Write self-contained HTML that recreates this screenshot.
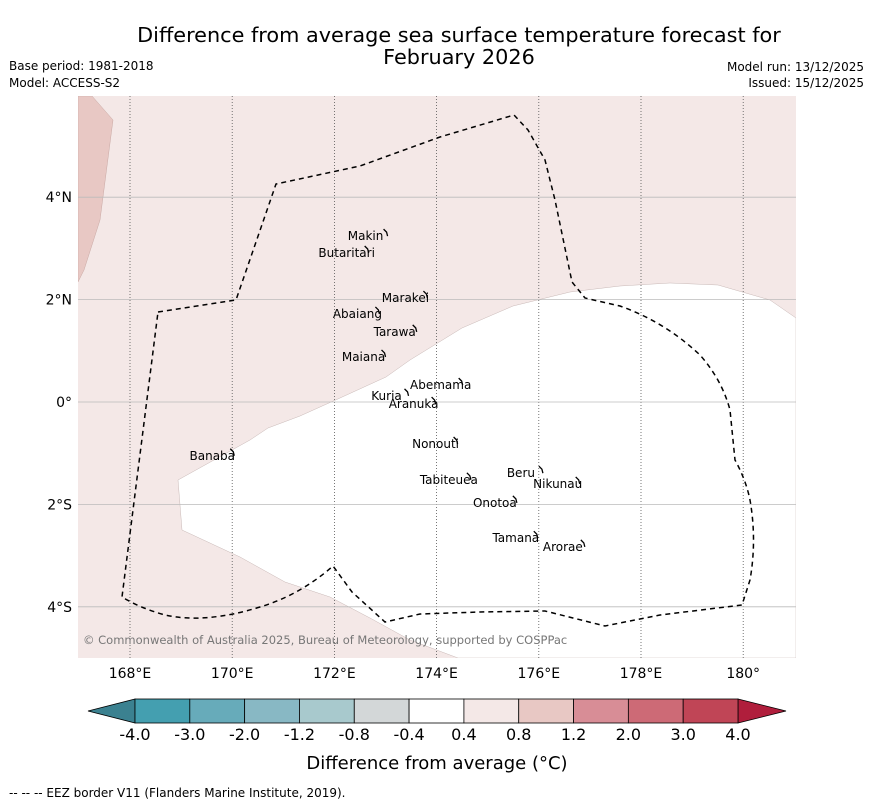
<!DOCTYPE html>
<html><head><meta charset="utf-8"><style>
body{margin:0;background:#fff;width:873px;height:804px;overflow:hidden;font-family:"DejaVu Sans","Liberation Sans",sans-serif}
svg{position:absolute;left:0;top:0}
</style></head><body>
<svg id="c" width="873" height="804">
<text x="459" y="42" font-size="20.8" text-anchor="middle">Difference from average sea surface temperature forecast for</text>
<text x="459" y="64" font-size="20.8" text-anchor="middle">February 2026</text>
<text x="9" y="70" font-size="12">Base period: 1981-2018</text>
<text x="9" y="87" font-size="12">Model: ACCESS-S2</text>
<text x="864" y="71" font-size="12" text-anchor="end">Model run: 13/12/2025</text>
<text x="864" y="87" font-size="12" text-anchor="end">Issued: 15/12/2025</text>
<defs><clipPath id="mc"><rect x="78" y="96" width="718" height="562"/></clipPath></defs>
<g clip-path="url(#mc)">
<rect x="78" y="96" width="718" height="562" fill="#f4e8e7"/>
<polygon points="796,318 770,300 718,285 670,283 620,286 570,292 513,306 462,328 410,360 386,377 340,398 300,416 268,428 250,440 178,480 182,530 240,557 285,582 330,597 370,618 410,640 458,658 796,658" fill="#ffffff" stroke="#c8b8b6" stroke-width="0.5"/>
<polygon points="78,96 92,96 113,120 100,220 84,270 78,282" fill="#e8c8c4" stroke="#c8a8a4" stroke-width="0.5"/>
<g id="grid"></g>
<path d="M158,312 L236,300 L276,184 L360,166 L440,137 L514,115 L528,130 L545,160 L555,200 L572,282 L585,298 L620,306 Q665,322 700,355 Q722,380 730,410 L735,460 Q746,480 750,500 Q757,540 750,580 L742,605 L660,615 L605,626 L545,611 L480,612 L420,614 L385,622 L352,592 L333,566 Q300,595 260,607 Q205,624 165,615 Q140,608 122,597 Z" fill="none" stroke="#000" stroke-width="1.5" stroke-dasharray="5,4"/>
<g id="isl" stroke="#000" stroke-width="1.3" fill="none"></g>
<text x="83" y="644" font-size="11.5" fill="#777">© Commonwealth of Australia 2025, Bureau of Meteorology, supported by COSPPac</text>
</g>
<g id="axes" font-size="14"></g>
<g id="cb"></g>
<text x="437" y="769" font-size="18" text-anchor="middle">Difference from average (°C)</text>
<text x="9" y="797" font-size="12">--  --  -- EEZ border V11 (Flanders Marine Institute, 2019).</text>
</svg>
<script>
const lonTicks=[168,170,172,174,176,178,180];
const lonLabels=["168°E","170°E","172°E","174°E","176°E","178°E","180°"];
const latTicks=[4,2,0,-2,-4];
const latLabels=["4°N","2°N","0°","2°S","4°S"];
const cbLabels=["-4.0","-3.0","-2.0","-1.2","-0.8","-0.4","0.4","0.8","1.2","2.0","3.0","4.0"];
const cbColors=["#449fb0","#67abba","#88b8c4","#a8c9cd","#d3d7d8","#ffffff","#f4e8e7","#e8c8c4","#d88d96","#cd6a76","#c04556"];
const islandNames=["Makin","Butaritari","Marakei","Abaiang","Tarawa","Maiana","Abemama","Kuria","Aranuka","Nonouti","Banaba","Beru","Nikunau","Tabiteuea","Onotoa","Tamana","Arorae"];
const islandLon=[172.61,172.24,173.39,172.45,173.18,172.57,174.08,173.02,173.55,173.98,169.61,175.65,176.37,174.24,175.14,175.55,176.47];
const islandLat=[3.24,2.91,2.03,1.72,1.37,0.88,0.33,0.12,-0.04,-0.82,-1.05,-1.39,-1.60,-1.52,-1.97,-2.66,-2.83];
const X=l=>130+(l-168)*51.1, Y=l=>402-l*51.2;
const NS="http://www.w3.org/2000/svg";
function mk(t,a,p){const e=document.createElementNS(NS,t);for(const k in a)e.setAttribute(k,a[k]);p.appendChild(e);return e;}
const g=document.getElementById('grid'),ax=document.getElementById('axes');
lonTicks.forEach((l,i)=>{
 const ln=mk('line',{x1:X(l),x2:X(l),y1:96,y2:658,stroke:'#555','stroke-width':0.8,'stroke-dasharray':'1,2'},g);
 
 
 const t=mk('text',{x:X(l),y:678,'text-anchor':'middle'},ax);t.textContent=lonLabels[i];
 
 
});
latTicks.forEach((l,i)=>{
 const ln=mk('line',{x1:78,x2:796,y1:Y(l),y2:Y(l),stroke:'#bbb','stroke-width':0.8},g);
 
 
 const t=mk('text',{x:72,y:Y(l)+5,'text-anchor':'end'},ax);t.textContent=latLabels[i];
 
 
});
const isl=document.getElementById('isl');
islandNames.forEach((n,i)=>{
 const x=X(islandLon[i]),y=Y(islandLat[i]);
 const p=mk('path',{d:`M${x+18},${y-7} l3,3 l1,4`},isl);
 
 
 const t=mk('text',{x:x,y:y+4,'text-anchor':'middle','font-size':12,fill:'#000',stroke:'none'},isl);t.textContent=n;
 
 
});
const cb=document.getElementById('cb');
const x0=135,w=(738-135)/cbColors.length,y0=699,h=24;
const l=mk('polygon',{points:`88,711 ${x0},${y0} ${x0},${y0+h}`,fill:'#3b8190',stroke:'#000','stroke-width':0.8},cb);


const r=mk('polygon',{points:`786,711 738,${y0} 738,${y0+h}`,fill:'#b01e3c',stroke:'#000','stroke-width':0.8},cb);


cbColors.forEach((c,i)=>{
 const s=mk('rect',{x:x0+i*w,y:y0,width:w,height:h,fill:c,stroke:'#000','stroke-width':0.8},cb);
 
 
});
cbLabels.forEach((v,i)=>{
 const t=mk('text',{x:x0+i*w,y:740,'text-anchor':'middle','font-size':16},cb);t.textContent=v;
 
 
});
</script>
</body></html>
